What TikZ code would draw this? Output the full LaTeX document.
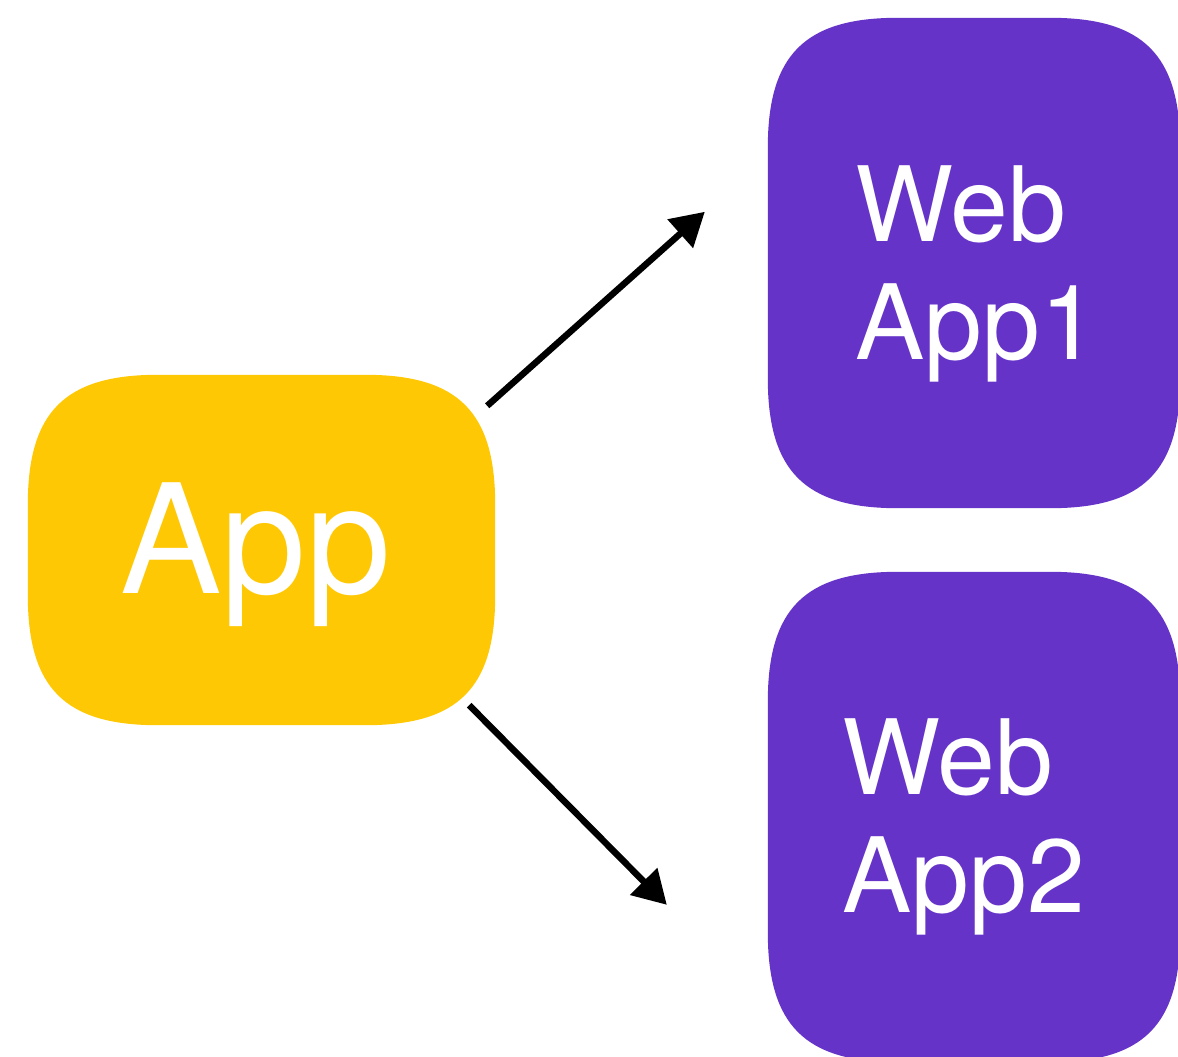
\documentclass[tikz,border=0pt]{standalone}
\usepackage{fontspec}
\setmainfont{TeX Gyre Heros}
\usetikzlibrary{arrows.meta,calc}
\definecolor{appyellow}{HTML}{FFC805}
\definecolor{webpurple}{HTML}{6633C9}
\tikzset{
  box/.style={draw=none, fill=none, inner sep=0pt},
  appbox/.style={box, minimum width=467pt, minimum height=350pt},
  webbox/.style={box, minimum width=412pt, minimum height=490pt},
  bigtext/.style={text=white, inner sep=0pt, anchor=base west, font=\fontsize{152}{152}\selectfont},
  webtext/.style={text=white, inner sep=0pt, anchor=base west, font=\fontsize{104}{104}\selectfont},
  flow/.style={line width=6.5pt, -{Triangle[length=33pt,width=37pt]}}
}
% Fill a node's outline as a rectangle with smooth (continuous-curvature) corners.
% #1 = node name, #2 = colour
\newcommand\softbox[2]{%
  \fill[#2] let \p1=(#1.south west), \p2=(#1.north east) in
    (\x1,{\y1+130pt}) -- (\x1,{\y2-130pt})
    .. controls (\x1,{\y2-37pt}) and ({\x1+37pt},\y2) .. ({\x1+130pt},\y2)
    -- ({\x2-130pt},\y2)
    .. controls ({\x2-37pt},\y2) and (\x2,{\y2-37pt}) .. (\x2,{\y2-130pt})
    -- (\x2,{\y1+130pt})
    .. controls (\x2,{\y1+37pt}) and ({\x2-37pt},\y1) .. ({\x2-130pt},\y1)
    -- ({\x1+130pt},\y1)
    .. controls ({\x1+37pt},\y1) and (\x1,{\y1+37pt}) .. (\x1,{\y1+130pt})
    -- cycle;
}
\begin{document}
\begin{tikzpicture}[x=1pt,y=-1pt]
  \useasboundingbox (0,0) rectangle (1178,1057);
  \begin{scope}
    \clip (0,0) rectangle (1178,1057);
    % boxes
    \node[appbox] (app) at (261.5,550) {};
    \node[webbox] (web1) at (974,263) {};
    \node[webbox] (web2) at (974,817) {};
    \softbox{app}{appyellow}
    \softbox{web1}{webpurple}
    \softbox{web2}{webpurple}
    % labels
    \node[bigtext] (appL) at (120,593) {App};
    \node[webtext] (w1a) at (855,241) {Web};
    \node[webtext] (w1b) at (855,359) {App1};
    \node[webtext] (w2a) at (842,794) {Web};
    \node[webtext] (w2b) at (842,912) {App2};
  \end{scope}
  % connectors
  \draw[flow] ($(app.north east)+(-8,31)$) -- ($(web1.north west)+(-63,194)$);
  \draw[flow] ($(app.south east)+(-26,-20)$) -- ($(web2.north west)+(-101,333)$);
\end{tikzpicture}
\end{document}
